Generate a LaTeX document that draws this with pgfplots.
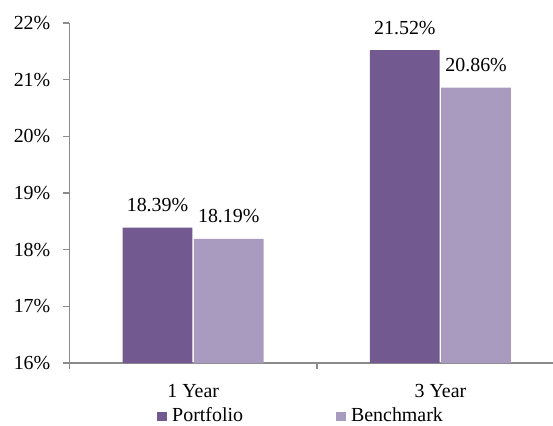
\documentclass[border=0pt]{standalone}
\usepackage{fontspec}
\setmainfont{Liberation Serif}
\usepackage{pgfplots}
\pgfplotsset{compat=1.18}
\definecolor{portfolio}{RGB}{114,89,143}
\definecolor{benchmark}{RGB}{169,155,192}
\definecolor{axisgray}{RGB}{140,140,140}
\begin{document}
\fontsize{20}{24}\selectfont
\begin{tikzpicture}
\useasboundingbox (-69.5bp,-63bp) rectangle (483.5bp,363bp);
\begin{axis}[
  at={(0,0)}, anchor=south west,
  scale only axis, width=483.5bp, height=340bp,
  /pgf/number format/assume math mode=true,
  ybar=1.5bp,
  xmin=-0.5, xmax=1.455, ymin=16, ymax=22,
  axis x line*=bottom, axis y line*=left,
  axis line style={draw=axisgray, line width=1.5bp},
  tick align=outside,
  tick style={draw=axisgray, line width=1.5bp},
  ytick={16,17,18,19,20,21,22},
  yticklabel={\pgfmathprintnumber{\tick}\%},
  yticklabel style={anchor=east, inner sep=0pt, xshift=-13bp},
  major tick length=6bp,
  xtick={-0.5,0.5}, xticklabels={},
  extra x ticks={0,1}, extra x tick labels={1 Year,3 Year},
  extra x tick style={major tick length=0pt},
  xticklabel style={anchor=base, inner sep=0pt, yshift=-34bp},
  bar width=0.282, 
  nodes near coords={\pgfmathprintnumber[fixed,fixed zerofill,precision=2]{\pgfplotspointmeta}\%},
  every node near coord/.append style={anchor=base, inner sep=0pt, yshift=16bp, black},
  legend style={draw=none, fill=none, at={(axis description cs:0.181,-0.157)}, anchor=west,
    font=\rmfamily\fontsize{20}{24}\selectfont,
    legend columns=2, inner sep=0pt, nodes={inner xsep=5bp, inner ysep=0pt},
    /tikz/every even column/.append style={column sep=88bp}},
  legend cell align=left,
  legend image code/.code={\fill[#1] (0bp,-4.5bp) rectangle (10bp,4.5bp);},
  clip=false,
]
\addplot[fill=portfolio, draw=none] coordinates {(0,18.39) (1,21.52)};
\addplot[fill=benchmark, draw=none] coordinates {(0,18.19) (1,20.86)};
\legend{Portfolio,Benchmark}
\end{axis}
\end{tikzpicture}
\end{document}
